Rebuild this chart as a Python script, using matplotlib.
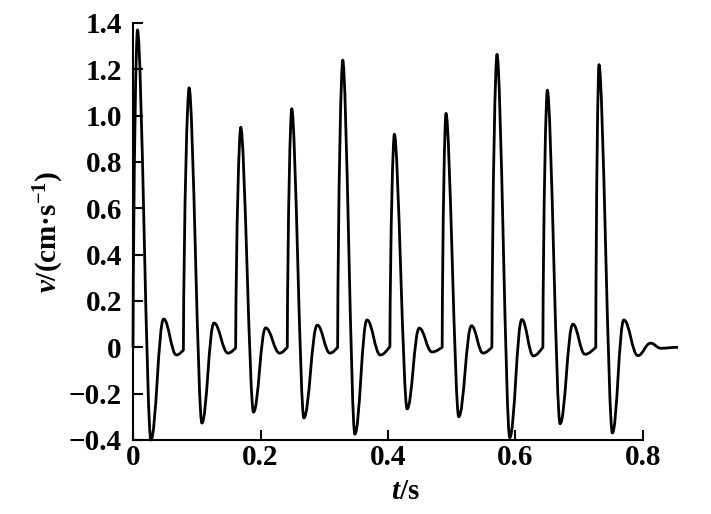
#!/usr/bin/env python3

# velocity pulses v(t), drawn as a smooth path through the read-off key points

import matplotlib
matplotlib.use("Agg")
import matplotlib.pyplot as plt
from matplotlib.path import Path
from matplotlib.patches import PathPatch
from matplotlib.ticker import FuncFormatter

# key points of each pulse (t in s, v in cm/s)
rise_t = [0.000, 0.079, 0.161, 0.242, 0.321, 0.403, 0.485, 0.563, 0.643, 0.726]
rise_v = [0.000, -0.012, -0.003, 0.000, 0.000, 0.003, 0.000, 0.000, 0.000, 0.000]
peak_t = [0.007, 0.088, 0.169, 0.249, 0.329, 0.410, 0.491, 0.571, 0.650, 0.731]
peak_v = [1.37, 1.12, 0.95, 1.03, 1.24, 0.92, 1.01, 1.265, 1.11, 1.22]
trough_t = [0.028, 0.108, 0.189, 0.268, 0.348, 0.430, 0.511, 0.591, 0.670, 0.752]
trough_v = [-0.40, -0.327, -0.28, -0.305, -0.375, -0.266, -0.30, -0.39, -0.33, -0.37]
bump_t = [0.048, 0.127, 0.208, 0.289, 0.367, 0.449, 0.531, 0.610, 0.690, 0.770]
bump_v = [0.122, 0.105, 0.084, 0.096, 0.118, 0.083, 0.093, 0.120, 0.100, 0.118]
dip_t = [0.068, 0.149, 0.230, 0.309, 0.388, 0.469, 0.549, 0.628, 0.709, 0.792]
dip_v = [-0.033, -0.025, -0.025, -0.025, -0.033, -0.020, -0.025, -0.037, -0.030, -0.036]
# ringing after the last pulse
tail_t = [0.812, 0.828, 0.855]
tail_v = [0.018, -0.004, 0.0]

xticks = [0, 0.2, 0.4, 0.6, 0.8]
yticks = [-0.4, -0.2, 0, 0.2, 0.4, 0.6, 0.8, 1.0, 1.2, 1.4]

plt.rcParams['font.family'] = ['Liberation Serif', 'DejaVu Serif']
plt.rcParams['font.weight'] = 'bold'
plt.rcParams['mathtext.fontset'] = 'custom'
plt.rcParams['mathtext.rm'] = 'Liberation Serif:bold'
plt.rcParams['mathtext.bf'] = 'Liberation Serif:bold'
plt.rcParams['mathtext.it'] = 'Liberation Serif:italic:bold'

verts = [(rise_t[0], rise_v[0])]
codes = [Path.MOVETO]


def curve(c1, c2, p1):
    verts.extend([c1, c2, p1])
    codes.extend([Path.CURVE4] * 3)


def smooth(t0, v0, t1, v1, k):
    # flat tangents at both ends
    dt = t1 - t0
    curve((t0 + k * dt, v0), (t1 - k * dt, v1), (t1, v1))


n = len(peak_t)
for i in range(n):
    dt = peak_t[i] - rise_t[i]
    dv = peak_v[i] - rise_v[i]
    curve((rise_t[i] + 0.12 * dt, rise_v[i] + 0.55 * dv),
          (peak_t[i] - 0.3 * dt, peak_v[i]), (peak_t[i], peak_v[i]))
    smooth(peak_t[i], peak_v[i], trough_t[i], trough_v[i], 0.3)
    smooth(trough_t[i], trough_v[i], bump_t[i], bump_v[i], 0.4)
    smooth(bump_t[i], bump_v[i], dip_t[i], dip_v[i], 0.4)
    if i < n - 1:
        dt = rise_t[i + 1] - dip_t[i]
        curve((dip_t[i] + 0.4 * dt, dip_v[i]),
              (rise_t[i + 1] - 0.3 * dt, rise_v[i + 1] - 0.4 * (rise_v[i + 1] - dip_v[i])),
              (rise_t[i + 1], rise_v[i + 1]))

t_prev, v_prev = dip_t[-1], dip_v[-1]
for t, v in zip(tail_t, tail_v):
    smooth(t_prev, v_prev, t, v, 0.4)
    t_prev, v_prev = t, v

fig = plt.figure(figsize=(7.11, 5.14), dpi=100)
ax = fig.add_axes([0.1871, 0.1440, 0.7665, 0.8113])

patch = PathPatch(Path(verts, codes), facecolor='none', edgecolor='black',
                  linewidth=2.0, clip_on=False, joinstyle='round')
ax.add_patch(patch)

ax.set_xlim(0, 0.855)
ax.set_ylim(-0.4, 1.4)
ax.set_xticks(xticks)
ax.set_yticks(yticks)


def fmt(v, pos):
    if abs(v) < 1e-9:
        return '0'
    return '{0:.1f}'.format(v).replace('-', '\u2212')


ax.xaxis.set_major_formatter(FuncFormatter(fmt))
ax.yaxis.set_major_formatter(FuncFormatter(fmt))

for side in ('top', 'right'):
    ax.spines[side].set_visible(False)
for side in ('left', 'bottom'):
    ax.spines[side].set_linewidth(1.5)
ax.spines['bottom'].set_bounds(0, 0.8)
ax.spines['left'].set_bounds(-0.4, 1.4)

ax.tick_params(direction='in', length=7, width=1.5, labelsize=21)
ax.tick_params(axis='x', pad=3)
ax.tick_params(axis='y', pad=8)

ax.set_xlabel(r'$\mathit{t}\mathrm{/s}$', fontsize=21, labelpad=6)
ax.set_ylabel('$\\mathit{v}\\mathrm{/(cm\u00b7s}^{\\mathrm{-1}}\\mathrm{)}$',
              fontsize=21, labelpad=2)

fig.savefig('out.png', dpi=100)
